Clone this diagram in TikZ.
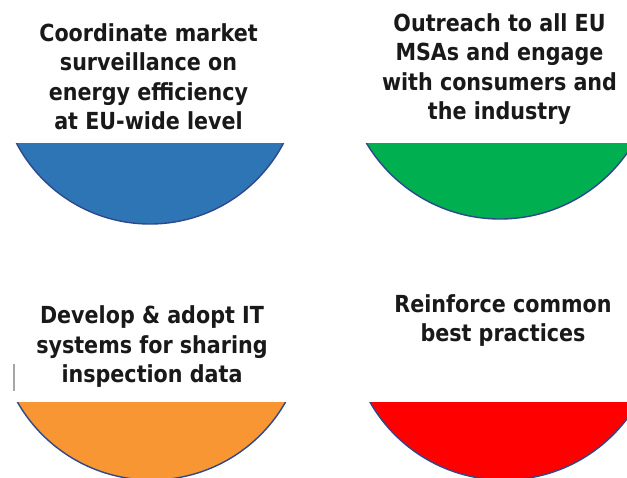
\documentclass[tikz,border=0pt]{standalone}
\usepackage{fontspec}
\newfontfamily\lblfont[FakeStretch=0.88]{DejaVu Sans}
\definecolor{segblue}{RGB}{46,117,182}
\definecolor{seggreen}{RGB}{0,176,80}
\definecolor{segorange}{RGB}{247,150,50}
\definecolor{segred}{RGB}{255,0,0}
\definecolor{segedge}{RGB}{47,72,140}
\definecolor{txt}{RGB}{25,25,25}
\begin{document}
\begin{tikzpicture}[x=1pt,y=-1pt,
  lbl/.style={align=center,inner sep=0pt,anchor=base,text=txt,
    font=\lblfont\bfseries\fontsize{23.5}{29.6}\selectfont},
  segline/.style={draw=segedge,line width=1.4pt}]
\useasboundingbox (0,0) rectangle (627,478);
\fill[white] (0,0) rectangle (627,478);
% blue
\begin{scope}
\clip (0,144) rectangle (627,478);
\fill[segblue] (150,73.4) circle (150.6);
\draw[segline] (150,73.4) circle (150.6);
\end{scope}
% green
\begin{scope}
\clip (0,144) rectangle (627,478);
\fill[seggreen] (500,63.6) circle (155.4);
\draw[segline] (500,63.6) circle (155.4);
\end{scope}
% orange
\begin{scope}
\clip (0,403) rectangle (627,478);
\fill[segorange] (151.5,325.8) circle (154.2);
\draw[segline] (151.5,325.8) circle (154.2);
\end{scope}
% red
\begin{scope}
\clip (0,403) rectangle (627,478);
\fill[segred] (504,325.8) circle (154.2);
\draw[segline] (504,325.8) circle (154.2);
\end{scope}
\coordinate (ga) at (14,364);
\coordinate (gb) at (14,391);
\draw[gray!70,line width=1.3pt] (ga) -- (gb);
\node[lbl] (t1) at (148.5,130) {Coordinate market\\surveillance on\\energy efficiency\\at EU-wide level};
\node[lbl] (t2) at (499.5,120) {Outreach to all EU\\MSAs and engage\\with consumers and\\the industry};
\node[lbl] (t3) at (152,383) {Develop \& adopt IT\\systems for sharing\\inspection data};
\node[lbl] (t4) at (503,342) {Reinforce common\\best practices};
\end{tikzpicture}
\end{document}
